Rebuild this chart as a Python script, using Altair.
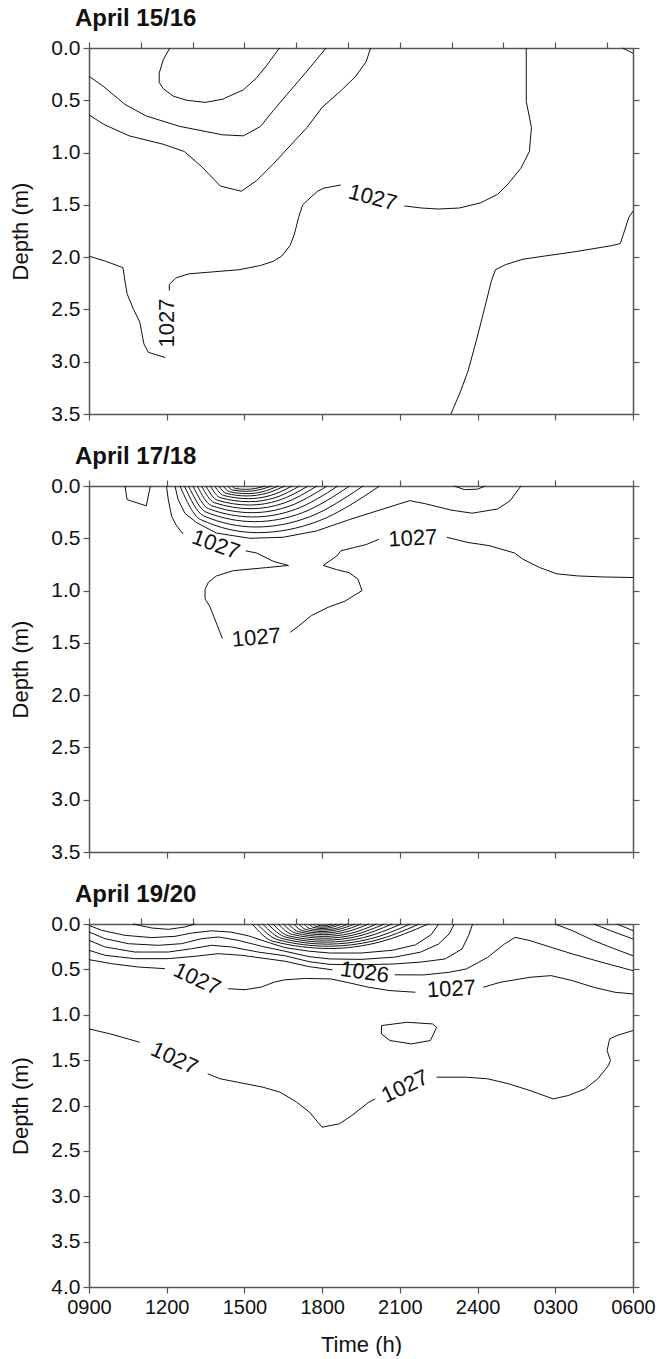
import altair as alt
import pandas as pd

FONT = "Liberation Sans"

# ---------------- axis / layout values ----------------
TIME_TICKS = [0, 3, 6, 9, 12, 15, 18, 21]          # hours after 0900
TIME_TICK_LABELS = ["0900", "1200", "1500", "1800", "2100", "2400", "0300", "0600"]
PANEL_TITLES = ["April 15/16", "April 17/18", "April 19/20"]
DEPTH_MAX = [3.5, 3.5, 4.0]
TOP_TICKS = [
    [0, 2, 4, 6, 8, 10, 12, 14, 16, 18, 20],
    [0, 3, 6, 9, 12, 15, 18, 21],
    [0, 2, 4, 6, 8, 10, 12, 14, 16, 18, 20],
]

# ---------------- Panel 1 (April 15/16) contour lines: (hour, depth) ----------------
P1_A = [(3.12, 0), (2.87, 0.11), (2.71, 0.24), (2.71, 0.33), (2.87, 0.39), (3.25, 0.46), (3.77, 0.50),
        (4.49, 0.52), (5.15, 0.49), (5.96, 0.40), (6.45, 0.29), (6.85, 0.17), (7.35, 0)]
P1_B = [(0, 0.27), (0.57, 0.37), (1.39, 0.54), (2.21, 0.65), (3.51, 0.75), (5.15, 0.83), (5.96, 0.84),
        (6.62, 0.75), (7.11, 0.60), (7.76, 0.41), (8.42, 0.22), (9.15, 0)]
P1_C = [(0, 0.64), (0.57, 0.73), (1.55, 0.84), (2.86, 0.92), (3.68, 0.99), (4.33, 1.13), (5.07, 1.32),
        (5.88, 1.37), (6.46, 1.27), (7.11, 1.11), (7.93, 0.89), (8.42, 0.76), (8.99, 0.57), (9.72, 0.41),
        (10.30, 0.27), (10.70, 0.13), (10.87, 0)]
P1_D1 = [(16.88, 0), (16.88, 0.51), (17.08, 0.76), (17.0, 0.99), (16.67, 1.15), (16.18, 1.30), (15.77, 1.40),
         (15.12, 1.48), (14.30, 1.53), (13.48, 1.54), (12.83, 1.53), (12.17, 1.51)]
P1_D2 = [(9.72, 1.31), (9.07, 1.34), (8.82, 1.37), (8.42, 1.46), (8.25, 1.50), (8.09, 1.62), (7.93, 1.78),
         (7.76, 1.89), (7.44, 1.99), (7.11, 2.04), (6.62, 2.08), (5.80, 2.12), (4.82, 2.14), (3.84, 2.16),
         (3.35, 2.20), (3.10, 2.26), (3.10, 2.32)]
P1_D3 = [(2.94, 2.96), (2.29, 2.91), (2.12, 2.83), (1.96, 2.62), (1.72, 2.50), (1.47, 2.35), (1.39, 2.23),
         (1.31, 2.10), (0.65, 2.04), (0, 1.99)]
P1_E = [(13.97, 3.5), (14.30, 3.31), (14.63, 3.09), (14.95, 2.80), (15.28, 2.48), (15.53, 2.23), (15.69, 2.12),
        (16.10, 2.07), (16.75, 2.02), (17.57, 1.99), (18.71, 1.95), (20.18, 1.89), (20.51, 1.87), (20.67, 1.75),
        (20.84, 1.62), (21, 1.56)]
P1_F = [(20.59, 0), (20.84, 0.03), (21, 0.05)]
P1_LABELS = [(10.95, 1.43, 15, "1027"), (3.02, 2.63, 270, "1027")]

# ---------------- Panel 2 (April 17/18) ----------------
P2_A = [(1.39, 0), (1.47, 0.13), (2.21, 0.19), (2.37, 0)]
P2_B = [(14.1, 0), (14.5, 0.035), (15.0, 0.03), (15.3, 0)]
P2_C1 = [(2.99, 0), (3.06, 0.13), (3.19, 0.29), (3.38, 0.38), (3.64, 0.46)]
P2_C2 = [(6.05, 0.62), (6.46, 0.64), (7.11, 0.72), (7.70, 0.76), (6.86, 0.78), (5.57, 0.81), (4.92, 0.86),
         (4.61, 0.92), (4.48, 0.99), (4.48, 1.08), (4.66, 1.15), (4.90, 1.30), (5.15, 1.46)]
P2_C3 = [(7.76, 1.40), (8.09, 1.34), (8.58, 1.24), (9.23, 1.16), (9.89, 1.10), (10.54, 1.00), (10.38, 0.89),
         (10.05, 0.83), (9.56, 0.80), (9.04, 0.76), (9.56, 0.67), (9.72, 0.62), (10.21, 0.59), (10.70, 0.56),
         (11.19, 0.51)]
P2_C4 = [(13.81, 0.49), (14.63, 0.54), (15.44, 0.57), (16.42, 0.64), (16.75, 0.70), (17.40, 0.78),
         (18.06, 0.84), (18.87, 0.86), (19.86, 0.87), (21, 0.875)]
P2_D = [(3.32, 0), (3.44, 0.13), (3.70, 0.26), (4.15, 0.35), (4.92, 0.45), (6.21, 0.50), (7.50, 0.49),
        (8.78, 0.43), (10.07, 0.32), (11.35, 0.22), (12.38, 0.14), (12.99, 0.17), (13.97, 0.23),
        (14.79, 0.26), (15.77, 0.22), (16.26, 0.14), (16.67, 0)]
P2_RINGS = [
    [(3.51, 0), (4.30, 0.32), (6.5, 0.446), (8.86, 0.335), (11.22, 0)],
    [(3.68, 0), (4.42, 0.285), (6.45, 0.392), (8.52, 0.294), (10.58, 0)],
    [(3.84, 0), (4.52, 0.25), (6.4, 0.341), (8.23, 0.256), (10.06, 0)],
    [(4.01, 0), (4.62, 0.218), (6.35, 0.296), (7.98, 0.222), (9.61, 0)],
    [(4.18, 0), (4.73, 0.188), (6.3, 0.255), (7.75, 0.191), (9.19, 0)],
    [(4.34, 0), (4.84, 0.16), (6.25, 0.217), (7.53, 0.163), (8.80, 0)],
    [(4.51, 0), (4.95, 0.135), (6.2, 0.182), (7.33, 0.137), (8.46, 0)],
    [(4.68, 0), (5.07, 0.112), (6.2, 0.150), (7.17, 0.113), (8.13, 0)],
    [(4.85, 0), (5.19, 0.09), (6.15, 0.121), (7.0, 0.091), (7.84, 0)],
    [(5.01, 0), (5.29, 0.07), (6.1, 0.095), (6.83, 0.071), (7.56, 0)],
    [(5.18, 0), (5.42, 0.054), (6.1, 0.073), (6.7, 0.055), (7.30, 0)],
    [(5.35, 0), (5.54, 0.038), (6.05, 0.051), (6.55, 0.038), (7.04, 0)],
    [(5.52, 0), (5.65, 0.024), (6.05, 0.032), (6.42, 0.024), (6.79, 0)],
]
P2_LABELS = [(4.9, 0.56, 20, "1027"), (6.46, 1.45, 355, "1027"), (12.5, 0.50, 357, "1027")]

# ---------------- Panel 3 (April 19/20) ----------------
P3_LENS = [(1.7, 0), (2.42, 0.044), (3.06, 0.059), (3.70, 0.033), (4.09, 0)]
P3_L2 = [(0, 0.015), (0.49, 0.07), (1.39, 0.125), (2.42, 0.15), (3.32, 0.136), (3.96, 0.10), (4.73, 0.075),
         (5.5, 0.09), (6.15, 0.13), (7.0, 0.21), (7.56, 0.26), (8.5, 0.30), (9.3, 0.32), (10.5, 0.32),
         (11.7, 0.29), (12.6, 0.23), (13.2, 0.12), (13.5, 0)]
P3_L3 = [(0, 0.088), (0.62, 0.162), (1.52, 0.217), (2.67, 0.235), (3.57, 0.217), (4.35, 0.162), (4.99, 0.143),
         (5.76, 0.18), (6.66, 0.245), (7.56, 0.30), (8.5, 0.36), (9.3, 0.385), (10.5, 0.39), (11.8, 0.365),
         (12.8, 0.31), (13.5, 0.22), (13.9, 0.11), (14.1, 0)]
P3_L4 = [(0, 0.18), (0.62, 0.253), (1.77, 0.309), (3.06, 0.309), (3.96, 0.272), (4.73, 0.235), (5.50, 0.253),
         (6.53, 0.309), (7.56, 0.35), (8.5, 0.415), (9.3, 0.445), (10.5, 0.45), (11.8, 0.44), (12.8, 0.42),
         (13.75, 0.385), (14.4, 0.275), (14.65, 0.128), (14.81, 0)]
P3_L5A = [(0, 0.29), (0.62, 0.345), (1.77, 0.382), (3.06, 0.382), (4.09, 0.356), (4.99, 0.327), (5.89, 0.345),
          (6.92, 0.385), (7.56, 0.41), (8.5, 0.47), (9.4, 0.505)]
P3_L5B = [(11.8, 0.56), (12.93, 0.561), (13.91, 0.532), (14.57, 0.495), (15.39, 0.367), (16.04, 0.22),
          (16.45, 0.147), (17.02, 0.183), (17.84, 0.257), (18.66, 0.330), (19.80, 0.422), (21, 0.514)]
P3_T1 = [(17.99, 0), (18.66, 0.073), (19.48, 0.183), (20.30, 0.275), (21, 0.35)]
P3_T2 = [(19.48, 0), (20.13, 0.073), (21, 0.165)]
P3_T3 = [(20.38, 0), (21, 0.073)]
P3_U1 = [(0, 0.393), (0.87, 0.437), (1.90, 0.474), (2.93, 0.492)]
P3_U2 = [(5.37, 0.713), (6.02, 0.724), (6.66, 0.694), (7.17, 0.639), (7.56, 0.615), (8.35, 0.60), (9.33, 0.605),
         (10.15, 0.655), (10.80, 0.697), (11.62, 0.734), (12.60, 0.752)]
P3_U3 = [(15.22, 0.697), (15.88, 0.642), (17.02, 0.587), (17.84, 0.569), (18.66, 0.624), (19.48, 0.697),
         (20.30, 0.752), (21, 0.771)]
P3_W1 = [(0, 1.156), (0.82, 1.211), (1.96, 1.303)]
P3_W2 = [(4.58, 1.651), (5.07, 1.706), (5.73, 1.743), (6.71, 1.798), (7.37, 1.853), (8.02, 1.963), (8.51, 2.073),
         (9.00, 2.239), (9.66, 2.202), (10.15, 2.110), (10.80, 1.963), (11.05, 1.927)]
P3_W3 = [(13.42, 1.688), (14.57, 1.688), (15.39, 1.706), (16.20, 1.761), (17.02, 1.835), (17.92, 1.927),
         (18.50, 1.890), (19.15, 1.817), (19.64, 1.706), (20.05, 1.560), (20.13, 1.505), (20.00, 1.394),
         (20.10, 1.266), (20.38, 1.229), (21, 1.174)]
P3_LOOP = [(11.29, 1.119), (12.28, 1.083), (13.26, 1.101), (13.42, 1.138), (13.18, 1.284), (12.44, 1.321),
           (11.62, 1.284), (11.29, 1.211), (11.29, 1.119)]
P3_RINGS = [
    [(6.3, 0), (7.1, 0.19), (9.3, 0.27), (11.2, 0.20), (13.1, 0)],
    [(6.5, 0), (7.3, 0.175), (9.25, 0.245), (11.0, 0.185), (12.75, 0)],
    [(6.7, 0), (7.45, 0.16), (9.2, 0.222), (10.8, 0.168), (12.4, 0)],
    [(6.9, 0), (7.6, 0.145), (9.15, 0.20), (10.6, 0.15), (12.05, 0)],
    [(7.1, 0), (7.7, 0.13), (9.1, 0.178), (10.4, 0.134), (11.7, 0)],
    [(7.3, 0), (7.85, 0.115), (9.1, 0.157), (10.25, 0.118), (11.4, 0)],
    [(7.5, 0), (7.97, 0.10), (9.05, 0.137), (10.1, 0.103), (11.1, 0)],
    [(7.7, 0), (8.1, 0.086), (9.05, 0.118), (9.9, 0.089), (10.8, 0)],
    [(7.9, 0), (8.23, 0.073), (9.0, 0.10), (9.75, 0.075), (10.5, 0)],
    [(8.1, 0), (8.37, 0.06), (9.0, 0.083), (9.6, 0.062), (10.25, 0)],
    [(8.3, 0), (8.5, 0.048), (9.0, 0.066), (9.5, 0.05), (10.0, 0)],
    [(8.5, 0), (8.65, 0.036), (9.0, 0.05), (9.37, 0.038), (9.75, 0)],
    [(8.65, 0), (8.76, 0.026), (9.0, 0.035), (9.27, 0.027), (9.55, 0)],
    [(8.8, 0), (8.87, 0.015), (9.0, 0.02), (9.17, 0.015), (9.35, 0)],
]
P3_LABELS = [(4.17, 0.606, 25, "1027"), (10.64, 0.532, 8, "1026"), (13.99, 0.716, 357, "1027"),
             (3.30, 1.48, 25, "1027"), (12.2, 1.79, 335, "1027")]

PANEL_LINES = [
    [P1_A, P1_B, P1_C, P1_D1, P1_D2, P1_D3, P1_E, P1_F],
    [P2_A, P2_B, P2_C1, P2_C2, P2_C3, P2_C4, P2_D],
    [P3_LENS, P3_L2, P3_L3, P3_L4, P3_L5A, P3_L5B, P3_T1, P3_T2, P3_T3, P3_U1, P3_U2, P3_U3,
     P3_W1, P3_W2, P3_W3, P3_LOOP],
]
PANEL_RINGS = [[], P2_RINGS, P3_RINGS]
PANEL_LABELS = [P1_LABELS, P2_LABELS, P3_LABELS]

W = 544
HEIGHTS = [366, 366, 363]
LINE_COLOR = "#111111"

label_expr = "[" + ",".join("'%s'" % t for t in TIME_TICK_LABELS) + "][round(datum.value / 3)]"


def seg_frame(segments):
    rows = []
    for s, pts in enumerate(segments):
        for k, (h, d) in enumerate(pts):
            rows.append({"seg": s, "o": k, "h": h, "d": d})
    return pd.DataFrame(rows)


def make_panel(i):
    show_x = i == 2
    xs = alt.Scale(domain=[0, 21], nice=False, zero=False)
    ys = alt.Scale(domain=[0, DEPTH_MAX[i]], nice=False, zero=False, reverse=True)
    yvals = [k * 0.5 for k in range(int(round(DEPTH_MAX[i] / 0.5)) + 1)]

    if show_x:
        xaxis = alt.Axis(orient="bottom", values=TIME_TICKS, labelExpr=label_expr, labelFlush=False,
                         labelOverlap=False, labelPadding=4, labelFontSize=20, titlePadding=17)
        x_main = alt.X("h:Q", scale=xs, axis=xaxis, title="Time (h)")
    else:
        xaxis = alt.Axis(orient="bottom", values=TIME_TICKS, labels=False)
        x_main = alt.X("h:Q", scale=xs, axis=xaxis, title=None)
    y_main = alt.Y("d:Q", scale=ys, title="Depth (m)",
                   axis=alt.Axis(orient="left", values=yvals, format=".1f", labelFlush=False,
                                 labelOverlap=False, labelFontSize=21, titlePadding=18))

    layers = [
        alt.Chart(seg_frame(PANEL_LINES[i])).mark_line(
            color=LINE_COLOR, strokeWidth=1, interpolate="linear"
        ).encode(x=x_main, y=y_main, detail="seg:N", order="o:Q")
    ]
    if PANEL_RINGS[i]:
        layers.append(
            alt.Chart(seg_frame(PANEL_RINGS[i])).mark_line(
                color=LINE_COLOR, strokeWidth=1, interpolate="monotone"
            ).encode(x=alt.X("h:Q", scale=xs, axis=None), y=alt.Y("d:Q", scale=ys, axis=None),
                     detail="seg:N", order="o:Q")
        )
    lab = pd.DataFrame([{"h": h, "d": d, "a": a, "t": t} for (h, d, a, t) in PANEL_LABELS[i]])
    layers.append(
        alt.Chart(lab).mark_text(font=FONT, fontSize=22, color=LINE_COLOR, align="center",
                                 baseline="middle").encode(
            x=alt.X("h:Q", scale=xs, axis=None), y=alt.Y("d:Q", scale=ys, axis=None),
            text="t:N", angle=alt.Angle("a:Q", scale=None))
    )
    frame = alt.Chart(pd.DataFrame({"h": [0.0], "d": [0.0]})).mark_point(opacity=0).encode(
        x=alt.X("h:Q", scale=xs, title=None,
                axis=alt.Axis(orient="top", values=TOP_TICKS[i], labels=False)),
        y=alt.Y("d:Q", scale=ys, title=None,
                axis=alt.Axis(orient="right", values=yvals, labels=False)),
    )
    layers.append(frame)

    return alt.layer(*layers).resolve_axis(x="independent", y="independent").properties(
        width=W, height=HEIGHTS[i],
        title=alt.Title(PANEL_TITLES[i], anchor="start", frame="group", dx=-14, offset=6),
    )


chart = alt.vconcat(make_panel(0), make_panel(1), make_panel(2), spacing=21).properties(
    padding={"left": 9, "top": 7, "right": 5, "bottom": 1}
).configure_axis(
    grid=False, domainColor="#555555", domainWidth=1.5, tickColor="#555555", tickWidth=1.2,
    tickSize=6, labelFont=FONT, labelFontSize=20, labelColor=LINE_COLOR, labelPadding=3,
    titleFont=FONT, titleFontSize=22, titleFontWeight="normal", titleColor=LINE_COLOR,
).configure_view(stroke=None).configure_title(
    font=FONT, fontSize=24, fontWeight="bold", color=LINE_COLOR
)

chart.save("out.html", embed_options={"renderer": "svg", "actions": False})
